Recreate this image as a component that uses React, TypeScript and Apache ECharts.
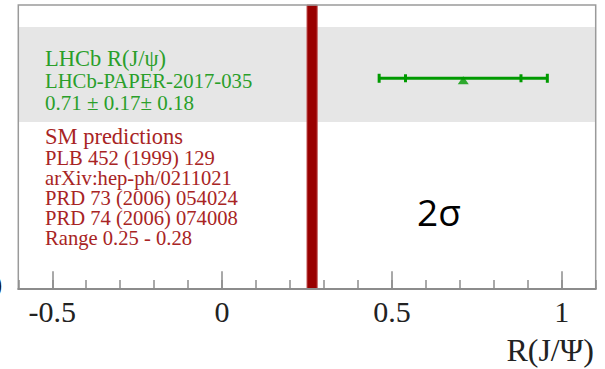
import React, { useEffect, useRef } from "react";
import * as echarts from "echarts";

// ---- data ----
const xRange = [-0.6, 1.1];
const majorTicks = [-0.5, 0, 0.5, 1];
const lhcbValue = [0.71];
const lhcbStat = [0.17];
const lhcbSyst = [0.18];
const lhcbRow = [0.742]; // vertical position of the measurement row (0..1 of plot height)
const grayBandRows = [0.588, 0.9225];
const smRange = [0.25, 0.28];
const greenLines = ["LHCb R(J/\u03c8)", "LHCb-PAPER-2017-035", "0.71 \u00b1 0.17\u00b1 0.18"];
const redLines = [
  "SM predictions",
  "PLB 452 (1999) 129",
  "arXiv:hep-ph/0211021",
  "PRD 73 (2006) 054024",
  "PRD 74 (2006) 074008",
  "Range 0.25 - 0.28",
];
const axisTitle = "R(J/\u03a8)";
const sigmaLabel = "2\u03c3";

const GREEN = "#009a00";
const GREEN_TEXT = "#2a9f2a";
const RED = "#990000";
const RED_TEXT = "#a82424";
const SERIF = "'Liberation Serif', 'Times New Roman', serif";

export default function App() {
  const ref = useRef<HTMLDivElement>(null);
  useEffect(() => {
    if (!ref.current) return;
    const chart = echarts.init(ref.current, null, { renderer: "svg" });
    const total = lhcbValue.map((v, i) => Math.sqrt(lhcbStat[i] ** 2 + lhcbSyst[i] ** 2));
    const errData = lhcbValue.map((v, i) => [v, lhcbStat[i], total[i], lhcbRow[i]]);

    const greenY = [58, 81, 103];
    const greenSize = [22.5, 20.7, 21];
    const redY = [136, 158, 178, 198, 218, 238];

    const graphics: any[] = [];
    greenLines.forEach((t, i) =>
      graphics.push({
        type: "text",
        x: 45,
        y: greenY[i],
        style: {
          text: t,
          fill: GREEN_TEXT,
          font: `${greenSize[i]}px ${SERIF}`,
          verticalAlign: "middle",
          align: "left",
        },
        z: 20,
      })
    );
    redLines.forEach((t, i) =>
      graphics.push({
        type: "text",
        x: 45,
        y: redY[i],
        style: {
          text: t,
          fill: RED_TEXT,
          font: `${i === 0 ? 22.5 : 20.6}px ${SERIF}`,
          verticalAlign: "middle",
          align: "left",
        },
        z: 20,
      })
    );
    graphics.push({
      type: "text",
      x: 439,
      y: 211,
      style: {
        text: sigmaLabel,
        fill: "#000",
        font: "37px 'Open Sans', 'Noto Sans', sans-serif",
        align: "center",
        verticalAlign: "middle",
      },
      z: 20,
    });
    graphics.push({
      type: "text",
      x: 594,
      y: 350,
      style: { text: axisTitle, fill: "#222", font: `32px ${SERIF}`, align: "right", verticalAlign: "middle" },
      z: 20,
    });
    graphics.push({
      type: "text",
      x: -7,
      y: 283,
      style: { text: ")", fill: "#111", font: `bold 28px ${SERIF}`, align: "left", verticalAlign: "middle" },
      z: 20,
    });

    chart.setOption({
      animation: false,
      grid: {
        left: 18.3,
        right: 9.3,
        top: 5,
        bottom: 80,
        show: true,
        backgroundColor: "transparent",
        borderColor: "#9a9a9a",
        borderWidth: 1.5,
        z: 10,
        containLabel: false,
        outerBoundsMode: "none",
      },
      xAxis: [
        {
          type: "value",
          min: xRange[0],
          max: xRange[1],
          interval: 0.1,
          splitLine: { show: false },
          axisLine: { show: true, lineStyle: { color: "#8c8c8c", width: 2 } },
          axisTick: { show: true, inside: true, length: 9, lineStyle: { color: "#8c8c8c", width: 1.5 } },
          axisLabel: { show: false },
          z: 11,
        },
        {
          type: "value",
          min: xRange[0],
          max: xRange[1],
          position: "bottom",
          offset: 0,
          splitLine: { show: false },
          axisLine: { show: false },
          axisTick: {
            show: true,
            inside: true,
            length: 17.7,
            customValues: majorTicks,
            lineStyle: { color: "#8c8c8c", width: 1.5 },
          },
          axisLabel: {
            show: true,
            customValues: majorTicks,
            margin: 7,
            fontFamily: SERIF,
            fontSize: 30,
            color: "#222",
            formatter: (v: number) => String(v),
          },
          z: 11,
        },
      ],
      yAxis: { type: "value", min: 0, max: 1, show: false },
      series: [
        {
          type: "line",
          data: [],
          z: 1,
          markArea: {
            silent: true,
            itemStyle: { color: "#e6e6e6" },
            data: [[{ yAxis: grayBandRows[0] }, { yAxis: grayBandRows[1] }]],
          },
        },
        {
          type: "custom",
          z: 3,
          silent: true,
          data: [smRange],
          renderItem: (params: any, api: any) => {
            const p0 = api.coord([api.value(0), 1]);
            const p1 = api.coord([api.value(1), 0]);
            return {
              type: "rect",
              shape: { x: p0[0], y: p0[1], width: p1[0] - p0[0], height: p1[1] - p0[1] },
              style: { fill: RED, stroke: "#c05050", lineWidth: 1 },
            };
          },
        },
        {
          type: "custom",
          z: 4,
          silent: true,
          data: errData,
          renderItem: (params: any, api: any) => {
            const v = api.value(0);
            const st = api.value(1);
            const tot = api.value(2);
            const y = api.value(3);
            const lo = api.coord([v - tot, y]);
            const hi = api.coord([v + tot, y]);
            const sLo = api.coord([v - st, y]);
            const sHi = api.coord([v + st, y]);
            const style = { stroke: GREEN, lineWidth: 3 };
            const vline = (p: number[], h: number) => ({
              type: "line",
              shape: { x1: p[0], y1: p[1] - h, x2: p[0], y2: p[1] + h },
              style,
            });
            return {
              type: "group",
              children: [
                { type: "line", shape: { x1: lo[0], y1: lo[1], x2: hi[0], y2: hi[1] }, style },
                vline(lo, 4.5),
                vline(hi, 4.5),
                vline(sLo, 4),
                vline(sHi, 4),
              ],
            };
          },
        },
        {
          type: "scatter",
          z: 5,
          silent: true,
          symbol: "triangle",
          symbolSize: [11, 8],
          symbolOffset: [0, 2],
          itemStyle: { color: GREEN },
          data: lhcbValue.map((v, i) => [v, lhcbRow[i]]),
        },
      ],
      graphic: graphics,
    });
    return () => chart.dispose();
  }, []);
  return (
    <div
      ref={ref}
      style={{ position: "fixed", left: 0, top: 0, width: 605, height: 369, background: "#fff" }}
    />
  );
}
